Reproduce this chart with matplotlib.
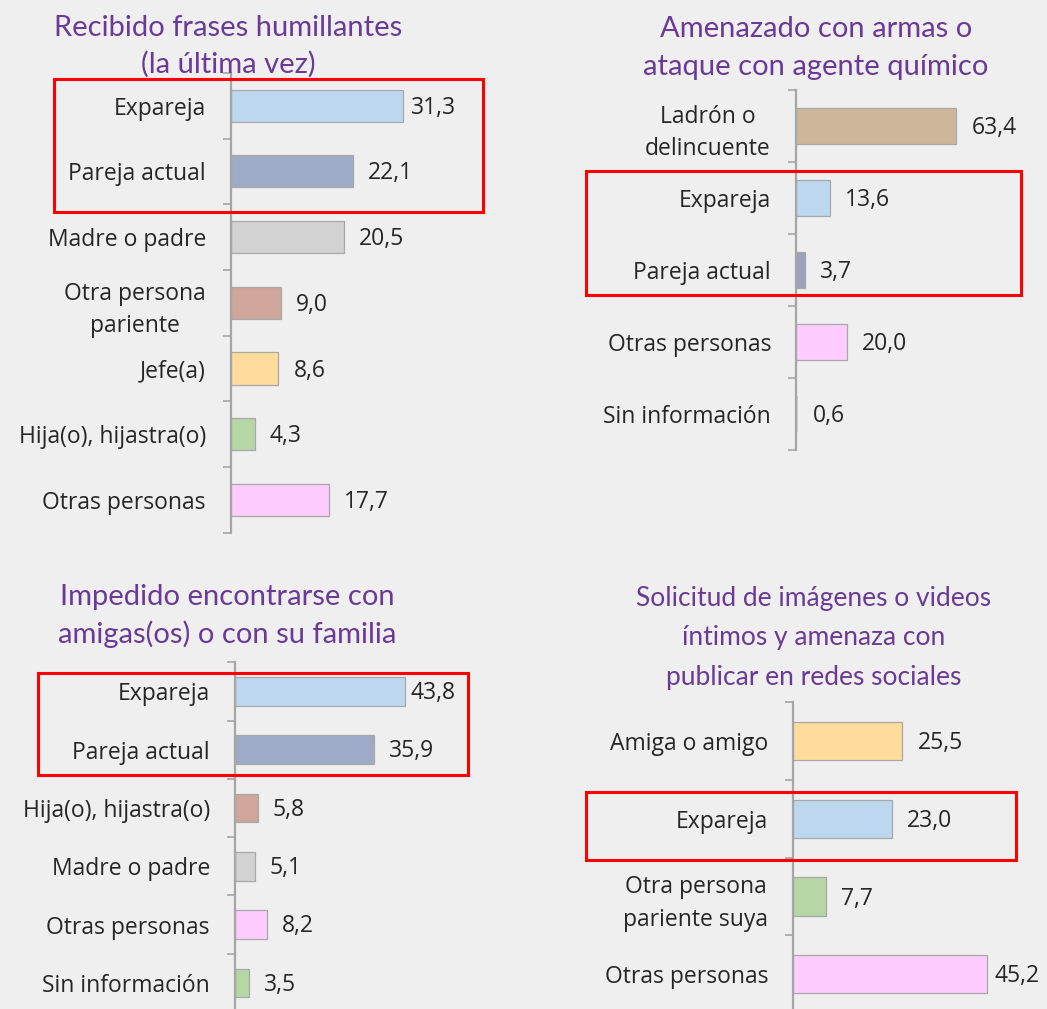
import matplotlib
matplotlib.use("Agg")
import matplotlib.pyplot as plt
from matplotlib.patches import Rectangle

# ---- data ----
p1_title = ["Recibido frases humillantes", "(la última vez)"]
p1_labels = ["Expareja", "Pareja actual", "Madre o padre", "Otra persona\npariente",
             "Jefe(a)", "Hija(o), hijastra(o)", "Otras personas"]
p1_values = [31.3, 22.1, 20.5, 9.0, 8.6, 4.3, 17.7]
p1_colors = ["#bdd7ee", "#9dabc6", "#d2d2d2", "#d0a59c", "#ffdc9b", "#b6d6a6", "#ffccff"]

p2_title = ["Amenazado con armas o", "ataque con agente químico"]
p2_labels = ["Ladrón o\ndelincuente", "Expareja", "Pareja actual", "Otras personas", "Sin información"]
p2_values = [63.4, 13.6, 3.7, 20.0, 0.6]
p2_colors = ["#cdb79b", "#bdd7ee", "#9da3bc", "#ffccff", "#d2d2d2"]

p3_title = ["Impedido encontrarse con", "amigas(os) o con su familia"]
p3_labels = ["Expareja", "Pareja actual", "Hija(o), hijastra(o)", "Madre o padre",
             "Otras personas", "Sin información"]
p3_values = [43.8, 35.9, 5.8, 5.1, 8.2, 3.5]
p3_colors = ["#bdd7ee", "#9dabc6", "#d0a59c", "#d2d2d2", "#ffccff", "#b6d6a6"]

p4_title = ["Solicitud de imágenes o videos", "íntimos y amenaza con", "publicar en redes sociales"]
p4_labels = ["Amiga o amigo", "Expareja", "Otra persona\npariente suya", "Otras personas"]
p4_values = [25.5, 23.0, 7.7, 45.2]
p4_colors = ["#ffdc9b", "#bdd7ee", "#b6d6a6", "#ffccff"]

W, H = 1047, 1009
BG = "#efefef"
PURPLE = "#6b3a96"
TXT = "#262626"
TITLE_FONT = ["Lato", "DejaVu Sans"]
LABEL_FONT = ["Open Sans", "DejaVu Sans"]
FS = 16.5

plt.rcParams["font.family"] = LABEL_FONT

fig = plt.figure(figsize=(W / 100, H / 100), dpi=100, facecolor=BG)


def panel(labels, values, colors, left, top, bottom, ppu, right, limit,
          title_lines, title_x, title_y0, title_dy, title_size):
    ax = fig.add_axes([left / W, 1 - bottom / H, (right - left) / W, (bottom - top) / H])
    ax.set_facecolor("none")
    n = len(labels)
    pos = list(range(n))
    ax.barh(pos, values, height=0.49, color=colors, edgecolor="#a8a8a8",
            linewidth=[0.9 if v > 1 else 0 for v in values])
    ax.set_xlim(0, (right - left) / ppu)
    ax.set_ylim(n - 0.5, -0.5)
    for s in ["top", "right", "bottom"]:
        ax.spines[s].set_visible(False)
    ax.spines["left"].set_color("#a6a6a6")
    ax.spines["left"].set_linewidth(1.6)
    ax.set_xticks([])
    ax.set_yticks(pos)
    ax.set_yticklabels(labels, fontsize=FS, color=TXT, linespacing=1.45,
                       multialignment="center")
    ax.tick_params(axis="y", which="major", length=0, pad=18)
    ax.set_yticks([i - 0.5 for i in range(n + 1)], minor=True)
    ax.tick_params(axis="y", which="minor", length=6, width=1.4, color="#b0b0b0", direction="out")

    # value labels, pushed back inside when they would leave the chart area
    rend = fig.canvas.get_renderer()
    pad = 15 / ppu
    lim_data = (limit - left) / ppu
    for i, v in enumerate(values):
        t = ax.text(v + pad, i + 0.03, f"{v:.1f}".replace(".", ","), fontsize=FS, color=TXT,
                    ha="left", va="center")
        bb = t.get_window_extent(renderer=rend)
        if bb.x1 > limit:
            t.set_position((lim_data, i + 0.03))
            t.set_ha("right")

    for k, line in enumerate(title_lines):
        fig.text(title_x / W, 1 - (title_y0 + k * title_dy) / H, line, ha="center",
                 va="baseline", fontsize=title_size, color=PURPLE, family=TITLE_FONT)
    return ax


panel(p1_labels, p1_values, p1_colors, 231, 72.8, 532.9, 5.51, 480, 456,
      p1_title, 228, 36, 37, 21)
panel(p2_labels, p2_values, p2_colors, 796, 90, 450, 2.53, 1040, 1040,
      p2_title, 816, 37, 38, 21)
panel(p3_labels, p3_values, p3_colors, 235, 662.3, 1012, 3.88, 480, 456,
      p3_title, 227, 605, 38, 21)
panel(p4_labels, p4_values, p4_colors, 793.3, 702.3, 1013, 4.28, 1045, 1040,
      p4_title, 814, 606, 39.5, 19)

# red highlight boxes (figure pixels: x0, y0, x1, y1)
boxes = [(54, 79, 483, 212), (586, 171, 1021, 295), (38, 673, 468, 775), (586, 792, 1016, 860)]
for x0, y0, x1, y1 in boxes:
    fig.patches.append(Rectangle((x0 / W, 1 - y1 / H), (x1 - x0) / W, (y1 - y0) / H,
                                 transform=fig.transFigure, fill=False,
                                 edgecolor="#ff0000", linewidth=2.2, zorder=5))

fig.savefig("out.png", dpi=100, facecolor=BG)
